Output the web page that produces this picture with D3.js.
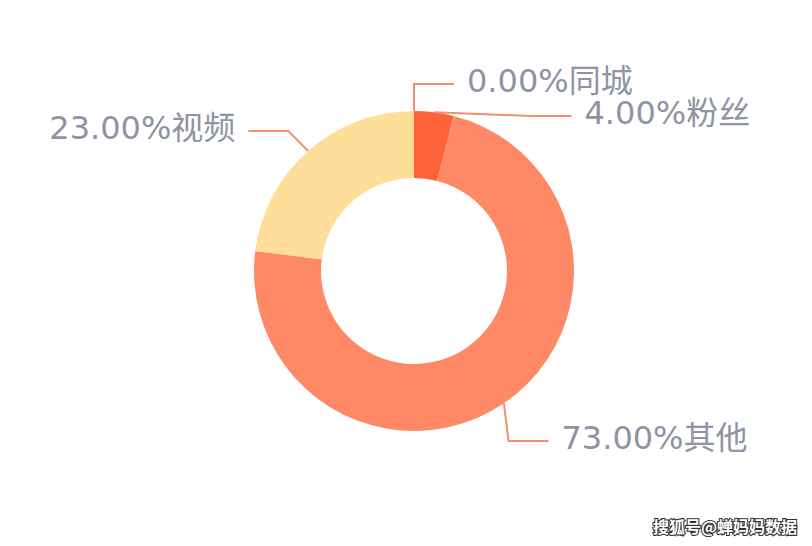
<!DOCTYPE html>
<html>
<head>
<meta charset="utf-8">
<script src="https://cdn.jsdelivr.net/npm/d3@7/dist/d3.min.js"></script>
<style>
html,body{margin:0;padding:0;background:#fff;}
svg{display:block;}
</style>
</head>
<body>
<svg id="chart" width="812" height="546"></svg>
<script>
// ---- data ----
const categories = ["同城", "粉丝", "其他", "视频"];
const values = [0, 4, 73, 23];
const colors = ["#FF5A2E", "#FF6238", "#FF8966", "#FFDE99"];
// label layout (vertical placement of each label line, after overlap avoidance)
const labelLineY = [84, 116, 441, 131];
const labelShifted = [false, true, true, false];

const W = 812, H = 546;
const cx = 414, cy = 271;
const outerR = 160, innerR = 93;
const elbowR = 190, shiftR = 194.5, len2 = 40, textGap = 13;
const lineColor = "#F2906B";
const textColor = "#8E93A5";

const svg = d3.select("#chart");
const g = svg.append("g").attr("transform", `translate(${cx},${cy})`);

const pie = d3.pie().value(d => d.value).sort(null);
const data = categories.map((c, i) => ({name: c, value: values[i], color: colors[i], i}));
const arcs = pie(data);
const arc = d3.arc().innerRadius(innerR).outerRadius(outerR);

g.selectAll("path.slice").data(arcs).enter().append("path")
  .attr("class", "slice")
  .attr("d", arc)
  .attr("fill", d => d.data.color);

const fmt = d3.format(".2f");

arcs.forEach(d => {
  const i = d.data.i;
  const a = (d.startAngle + d.endAngle) / 2;
  const sx = outerR * Math.sin(a), sy = -outerR * Math.cos(a);
  const ly = labelLineY[i] - cy;
  let ex;
  if (labelShifted[i]) {
    const dx = Math.sqrt(Math.max(0, shiftR * shiftR - ly * ly));
    ex = Math.sin(a) >= 0 ? dx : -dx;
  } else {
    ex = elbowR * Math.sin(a);
  }
  const right = Math.sin(a) >= -1e-9;
  const endX = ex + (right ? len2 : -len2);
  g.append("polyline")
    .attr("points", [[sx, sy], [ex, ly], [endX, ly]].map(p => p.join(",")).join(" "))
    .attr("fill", "none")
    .attr("stroke", lineColor)
    .attr("stroke-width", 2);
  g.append("text")
    .attr("x", endX + (right ? textGap : -textGap))
    .attr("y", ly)
    .attr("dy", "0.26em")
    .attr("text-anchor", right ? "start" : "end")
    .attr("font-family", "'DejaVu Sans', 'Noto Sans CJK SC', sans-serif")
    .attr("font-size", 32)
    .attr("fill", textColor)
    .text(fmt(d.data.value) + "%" + d.data.name);
});

// watermark
svg.append("text")
  .attr("x", 797).attr("y", 533)
  .attr("text-anchor", "end")
  .attr("font-family", "'Noto Sans CJK SC', sans-serif")
  .attr("font-weight", "bold")
  .attr("font-size", 16)
  .attr("fill", "#fff")
  .attr("stroke", "#333")
  .attr("stroke-width", 2.2)
  .attr("paint-order", "stroke")
  .text("搜狐号@蝉妈妈数据");
</script>
</body>
</html>
